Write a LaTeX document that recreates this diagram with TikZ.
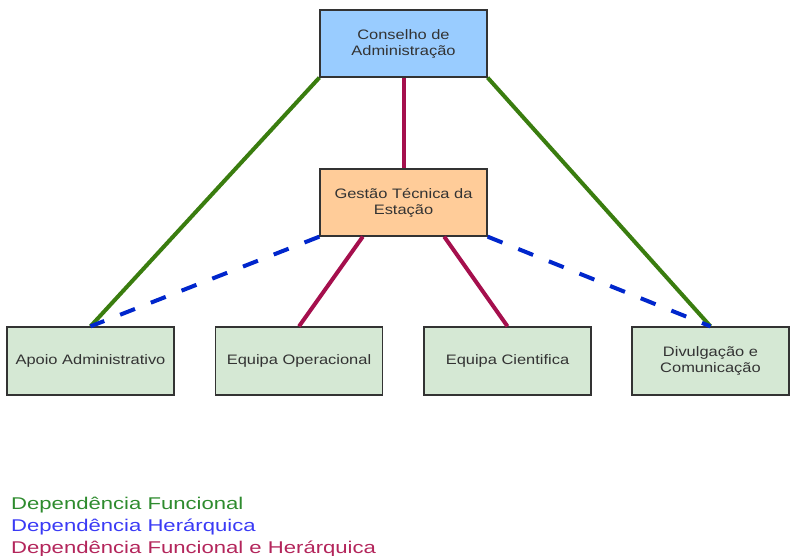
\documentclass[tikz,border=0pt]{standalone}
\usepackage{fontspec}
\setmainfont{Liberation Sans}
\newfontfamily\caixafont[FakeStretch=1.2]{Liberation Sans}
\newfontfamily\legendafont[FakeStretch=1.3]{Liberation Sans}

\definecolor{azulcaixa}{HTML}{99CCFF}
\definecolor{laranjacaixa}{HTML}{FFCC99}
\definecolor{verdecaixa}{HTML}{D5E8D4}
\definecolor{bordacaixa}{HTML}{333333}
\definecolor{verdelinha}{HTML}{3A7D0F}
\definecolor{azullinha}{HTML}{0026CC}
\definecolor{vermelholinha}{HTML}{A50F4D}
\definecolor{verdetexto}{HTML}{2E8B2E}
\definecolor{azultexto}{HTML}{3A3AF5}
\definecolor{vermelhotexto}{HTML}{B3255B}

\tikzset{
	caixa/.style={draw=bordacaixa, line width=1.3pt, minimum width=167pt, minimum height=67pt,
		inner sep=0pt, align=center, text=bordacaixa,
		font=\caixafont\fontsize{13.7}{16}\selectfont},
	funcional/.style={draw=verdelinha, line width=4pt},
	hierarquica/.style={draw=azullinha, line width=4pt, dash pattern=on 16pt off 17pt},
	ambas/.style={draw=vermelholinha, line width=4pt},
	legenda/.style={anchor=base west, inner sep=0pt, font=\legendafont\fontsize{17}{22}\selectfont}
}

\begin{document}
\begin{tikzpicture}[x=1pt, y=-1pt]

	\useasboundingbox (0,0) rectangle (790,555);

	% 1. Caixas (posições em pixels da figura)
	% Topo
	\node[caixa, fill=azulcaixa] (CA) at (403.5, 43.5) {Conselho de\\Administração};

	% Meio
	\node[caixa, fill=laranjacaixa] (GT) at (403.5, 202.5) {Gestão Técnica da\\Estação};

	% Fila de baixo
	\node[caixa, fill=verdecaixa, minimum height=68pt] (AA) at (90.5, 361) {Apoio Administrativo};
	\node[caixa, fill=verdecaixa, minimum height=68pt] (EO) at (299, 361) {Equipa Operacional};
	\node[caixa, fill=verdecaixa, minimum height=68pt] (EC) at (507.5, 361) {Equipa Cientifica};
	\node[caixa, fill=verdecaixa, minimum height=68pt, minimum width=157pt] (DC) at (710.5, 361) {Divulgação e\\Comunicação};

	% 2. Ligações entre as caixas
	\draw[funcional] (CA.south west) -- (AA.north);
	\draw[funcional] (CA.south east) -- (DC.north);
	\draw[hierarquica] (GT.south west) -- (AA.north);
	\draw[hierarquica] (GT.south east) -- (DC.north);
	\draw[ambas] (CA.south) -- (GT.north);
	\draw[ambas] (GT.-140) -- (EO.north);
	\draw[ambas] (GT.-40) -- (EC.north);

	% 3. Legenda
	\node[legenda, text=verdetexto] (L1) at (11, 509) {Dependência Funcional};
	\node[legenda, text=azultexto] (L2) at (11, 531) {Dependência Herárquica};
	\node[legenda, text=vermelhotexto] (L3) at (11, 553) {Dependência Funcional e Herárquica};

\end{tikzpicture}
\end{document}
